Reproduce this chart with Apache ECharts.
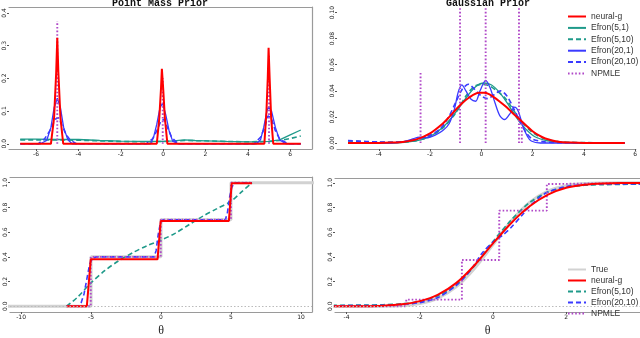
<!DOCTYPE html>
<html>
<head>
<meta charset="utf-8">
<script src="https://cdn.jsdelivr.net/npm/echarts@6/dist/echarts.min.js"></script>
<style>
  html, body { margin: 0; padding: 0; background: #fff; }
  #chartDiv { width: 640px; height: 338px; }
</style>
</head>
<body>
<div id="chartDiv"></div>
<script>
// ---------- data ----------
// point mass prior, density (top left)
var pmNeural = [[-6.75,0],[-5.3,0],[-5.15,0.08],[-5.05,0.22],[-5.0,0.324],[-4.95,0.22],[-4.85,0.08],[-4.72,0],
    [-0.3,0],[-0.18,0.08],[-0.1,0.17],[-0.06,0.229],[0.0,0.17],[0.08,0.08],[0.2,0],
    [4.78,0],[4.88,0.1],[4.94,0.2],[4.98,0.293],[5.03,0.2],[5.1,0.08],[5.2,0],[6.5,0]];
var pmEfron51 = [[-6.75,0.014],[-6,0.014],[-5,0.013],[-4,0.013],[-3,0.01],[-2,0.008],[-1,0.007],[0,0.007],
    [0.5,0.009],[1,0.012],[1.5,0.01],[2,0.009],[3,0.007],[4,0.006],[4.5,0.006],[5,0.007],[5.5,0.012],[6,0.027],[6.5,0.042]];
var pmEfron510 = [[-6.75,0.012],[-5,0.012],[-4,0.011],[-3,0.009],[-2,0.007],[-1,0.006],[0,0.007],[1,0.01],
    [2,0.009],[3,0.007],[4,0.006],[5,0.007],[5.5,0.01],[6,0.016],[6.5,0.024]];
var pmEfron201 = [[-6.75,0],[-5.8,0],[-5.5,0.01],[-5.3,0.05],[-5.15,0.11],[-5.0,0.139],[-4.85,0.11],[-4.7,0.05],[-4.5,0.012],[-4.3,0],
    [-0.6,0],[-0.45,0.02],[-0.3,0.06],[-0.15,0.11],[-0.03,0.124],[0.12,0.09],[0.28,0.04],[0.45,0.008],[0.7,0],
    [4.4,0],[4.6,0.012],[4.75,0.05],[4.9,0.1],[4.98,0.113],[5.12,0.1],[5.3,0.05],[5.5,0.012],[5.8,0],[6.5,0]];
var pmEfron2010 = [[-6.75,0],[-5.9,0],[-5.6,0.015],[-5.35,0.04],[-5.1,0.075],[-4.95,0.08],[-4.8,0.06],[-4.6,0.03],[-4.4,0.012],[-4.1,0],
    [-0.8,0],[-0.5,0.015],[-0.3,0.04],[-0.1,0.07],[0.05,0.075],[0.2,0.05],[0.4,0.02],[0.7,0],
    [4.3,0],[4.6,0.02],[4.8,0.05],[4.95,0.085],[5.1,0.08],[5.3,0.04],[5.5,0.015],[5.9,0],[6.5,0]];
var pmNpmle = [[-5,0],[-5,0.375],'-',[-0.02,0],[-0.02,0.2],'-',[5.0,0],[5.0,0.27]];

// gaussian prior, density (top right)
var gpNeural = [[-5.2,0],[-4,0],[-3.5,0.0003],[-3,0.001],[-2.5,0.003],[-2,0.0074],[-1.5,0.015],[-1.25,0.02],[-1,0.0255],
    [-0.75,0.0305],[-0.5,0.0345],[-0.1,0.0385],[0.1,0.0385],[0.3,0.0375],[0.5,0.035],[0.7,0.032],[1,0.0272],[1.25,0.0225],
    [1.5,0.018],[1.75,0.0135],[2,0.009],[2.25,0.0058],[2.5,0.0035],[3,0.001],[3.5,0.0003],[4,0],[5.6,0]];
var gpEfron51 = [[-5.2,0],[-3.5,0],[-3,0.0005],[-2.5,0.0018],[-2,0.005],[-1.5,0.012],[-1,0.0235],[-0.5,0.037],[-0.2,0.0435],
    [0.1,0.046],[0.4,0.0445],[0.7,0.039],[1,0.031],[1.5,0.016],[2,0.006],[2.5,0.002],[3,0.0008],[3.5,0.0002],[4,0],[5.6,0]];
var gpEfron510 = [[-5.2,0.0015],[-4.5,0.001],[-4,0.0005],[-3,0.0008],[-2.5,0.002],[-2,0.005],[-1.5,0.0115],[-1,0.023],
    [-0.6,0.036],[-0.3,0.043],[0,0.045],[0.3,0.044],[0.6,0.04],[0.9,0.035],[1.2,0.027],[1.5,0.018],[2,0.008],[2.5,0.003],
    [3,0.0012],[3.5,0.0005],[4,0.0003],[5.6,0]];
var gpEfron201 = [[-5.2,0],[-3.5,0],[-3,0.001],[-2.7,0.003],[-2.4,0.0045],[-2.1,0.004],[-1.8,0.006],[-1.5,0.0095],[-1.25,0.015],
    [-1.05,0.026],[-0.9,0.039],[-0.76,0.0445],[-0.6,0.04],[-0.4,0.0335],[-0.22,0.032],[-0.05,0.04],[0.17,0.048],[0.35,0.042],
    [0.53,0.031],[0.72,0.021],[0.91,0.018],[1.1,0.022],[1.3,0.0275],[1.45,0.024],[1.62,0.013],[1.8,0.005],[1.95,0.0015],[2.3,0],[5.6,0]];
var gpEfron2010 = [[-5.2,0.0018],[-4.5,0.0012],[-4,0.0008],[-3.5,0.0006],[-3,0.0012],[-2.5,0.003],[-2,0.006],[-1.6,0.011],
    [-1.3,0.019],[-1,0.031],[-0.75,0.041],[-0.5,0.045],[-0.25,0.041],[0,0.036],[0.25,0.034],[0.5,0.037],[0.75,0.04],
    [1,0.036],[1.25,0.027],[1.5,0.017],[1.75,0.008],[2,0.003],[2.5,0.0008],[3,0.0003],[5.6,0]];
var gpNpmle = [[-2.37,0],[-2.37,0.054],'-',[-0.83,0],[-0.83,0.32],'-',[0.17,0],[0.17,0.4],'-',[1.47,0],[1.47,0.21],'-',[1.58,0],[1.58,0.015]];

// point mass prior, cdf (bottom left)
var pcTrue = [[-11,0],[-5,0],[-5,0.4],[0,0.4],[0,0.7],[5,0.7],[5,1],[11,1]];
var pcNeural = [[-6.75,0],[-5.3,0],[-5.02,0.38],[-0.25,0.38],[-0.02,0.69],[4.85,0.69],[5.05,0.995],[6.5,0.995]];
var pcEfron510 = [[-6.75,0],[-6,0.07],[-5,0.19],[-4,0.29],[-3,0.37],[-2,0.435],[-1,0.49],[0,0.535],[1,0.59],[2,0.66],
    [3,0.73],[4,0.79],[5,0.85],[5.8,0.93],[6.5,1.0]];
var pcEfron2010 = [[-6.75,0],[-5.9,0],[-5.7,0.03],[-5.5,0.1],[-5.3,0.22],[-5.1,0.34],[-4.9,0.39],[-4.6,0.4],[-0.5,0.4],
    [-0.35,0.45],[-0.2,0.58],[-0.05,0.67],[0.15,0.7],[4.6,0.7],[4.75,0.76],[4.9,0.88],[5.05,0.96],[5.25,1.0],[6.5,1.0]];
var pcNpmle = [[-6.75,0],[-5.02,0],[-5.02,0.4],[-0.02,0.4],[-0.02,0.7],[5.0,0.7],[5.0,1.0],[6.5,1.0]];

// gaussian prior, cdf (bottom right)
var gcTrue = [[-4.4,0],[-3.5,0.0002],[-3,0.0013],[-2.5,0.006],[-2,0.023],[-1.5,0.067],[-1,0.159],[-0.5,0.309],[0,0.5],
    [0.5,0.691],[1,0.841],[1.5,0.933],[2,0.977],[2.5,0.994],[3,0.999],[3.5,1],[4.1,1]];
var gcNeural = [[-4.4,0],[-3.5,0.001],[-3,0.005],[-2.5,0.016],[-2,0.042],[-1.5,0.095],[-1,0.19],[-0.5,0.335],[0,0.51],
    [0.5,0.675],[1,0.81],[1.5,0.905],[2,0.96],[2.5,0.985],[3,0.995],[3.5,0.998],[4.1,0.998]];
var gcEfron510 = [[-4.4,0.008],[-3.5,0.01],[-3,0.013],[-2.5,0.02],[-2,0.038],[-1.5,0.085],[-1,0.175],[-0.5,0.33],[0,0.525],
    [0.5,0.7],[1,0.84],[1.5,0.925],[2,0.965],[2.5,0.98],[3,0.985],[4.1,0.99]];
var gcEfron2010 = [[-4.4,0.005],[-3.5,0.006],[-3,0.008],[-2.5,0.015],[-2,0.03],[-1.5,0.072],[-1,0.17],[-0.7,0.26],[-0.5,0.34],
    [-0.3,0.43],[0,0.52],[0.3,0.585],[0.5,0.64],[0.8,0.74],[1,0.81],[1.3,0.89],[1.5,0.925],[2,0.97],[2.5,0.985],[3,0.99],[4.1,0.99]];
var gcNpmle = [[-4.4,0],[-2.37,0],[-2.37,0.054],[-0.85,0.054],[-0.85,0.375],[0.17,0.375],[0.17,0.775],[1.47,0.775],
    [1.47,0.99],[1.58,0.99],[1.58,1.0],[4.1,1.0]];

// tick labels
var pmXTicks = [-6, -4, -2, 0, 2, 4, 6];
var pmYTicks = [0, 0.1, 0.2, 0.3, 0.4];
var gpXTicks = [-4, -2, 0, 2, 4, 6];
var gpYTicks = [0, 0.02, 0.04, 0.06, 0.08, 0.10];
var pcXTicks = [-10, -5, 0, 5, 10];
var gcXTicks = [-4, -2, 0, 2];
var cdfYTicks = [0, 0.2, 0.4, 0.6, 0.8, 1.0];

var titles = ['Point Mass Prior', 'Gaussian Prior'];
var legendTop = ['neural-g', 'Efron(5,1)', 'Efron(5,10)', 'Efron(20,1)', 'Efron(20,10)', 'NPMLE'];
var legendBottom = ['True', 'neural-g', 'Efron(5,10)', 'Efron(20,10)', 'NPMLE'];

// ---------- styles ----------
var STYLE = {
    'True':         {color: '#d2d2d2', width: 3,   type: 'solid'},
    'neural-g':     {color: '#ff0000', width: 2,   type: 'solid'},
    'Efron(5,1)':   {color: '#1f9a8a', width: 1.3, type: 'solid'},
    'Efron(5,10)':  {color: '#1f9a8a', width: 1.6, type: [5, 3]},
    'Efron(20,1)':  {color: '#3a3aff', width: 1.3, type: 'solid'},
    'Efron(20,10)': {color: '#3a3aff', width: 1.6, type: [5, 3]},
    'NPMLE':        {color: '#b048c8', width: 1.9, type: [1.6, 2]}
};
var LABEL_FONT = {fontSize: 6, color: '#222', fontFamily: 'DejaVu Sans'};
var BOX_COLOR = '#9a9a9a';

var chart = echarts.init(document.getElementById('chartDiv'));

// one entry per panel: grid box in px, axis ranges, tick values
var panels = [
    {grid: [9, 7, 303, 142],   x: [-7.28, 7.03],  y: [-0.016, 0.418],  xt: pmXTicks, yt: pmYTicks,  yd: 1, top: true,  right: true,  theta: false},
    {grid: [337, 8, 302, 141], x: [-5.63, 6.03],  y: [-0.0046, 0.1035], xt: gpXTicks, yt: gpYTicks, yd: 2, top: false, right: false, theta: false},
    {grid: [10, 177, 302, 142], x: [-10.79, 10.79], y: [-0.046, 1.046], xt: pcXTicks, yt: cdfYTicks, yd: 1, top: true, right: true, theta: true},
    {grid: [335, 178, 305, 141], x: [-4.317, 4.016], y: [-0.046, 1.039], xt: gcXTicks, yt: cdfYTicks, yd: 1, top: true, right: false, theta: true}
];

function makeSeries(name, data, panel, smooth) {
    var st = STYLE[name];
    return {
        name: name,
        type: 'line',
        xAxisIndex: panel,
        yAxisIndex: panel,
        data: data,
        symbol: 'none',
        smooth: smooth ? 0.3 : false,
        clip: true,
        silent: true,
        animation: false,
        itemStyle: {color: st.color},
        lineStyle: {color: st.color, width: st.width, type: st.type}
    };
}

function getOption() {
    var grids = [], xAxes = [], yAxes = [];
    var i, p;
    for (i = 0; i < panels.length; i++) {
        p = panels[i];
        grids.push({left: p.grid[0], top: p.grid[1], width: p.grid[2], height: p.grid[3], containLabel: false});
        (function (p, i) {
            xAxes.push({
                type: 'value', gridIndex: i, position: 'bottom', min: p.x[0], max: p.x[1],
                splitLine: {show: false},
                axisLine: {show: true, onZero: false, lineStyle: {color: BOX_COLOR, width: 1.2}},
                axisTick: {show: true, length: 2, customValues: p.xt, lineStyle: {color: '#555'}},
                axisLabel: {show: true, margin: 2, customValues: p.xt, fontSize: LABEL_FONT.fontSize,
                    color: LABEL_FONT.color, fontFamily: LABEL_FONT.fontFamily},
                name: p.theta ? '\u03b8' : '',
                nameLocation: 'middle',
                nameGap: 13,
                nameTextStyle: {fontFamily: 'Liberation Serif', fontSize: 12, color: '#222'}
            });
            yAxes.push({
                type: 'value', gridIndex: i, position: 'left', min: p.y[0], max: p.y[1],
                splitLine: {show: false},
                axisLine: {show: false, onZero: false},
                axisTick: {show: true, length: 2, customValues: p.yt, lineStyle: {color: '#555'}},
                axisLabel: {show: true, margin: 2, rotate: 90, customValues: p.yt, fontSize: LABEL_FONT.fontSize,
                    color: LABEL_FONT.color, fontFamily: LABEL_FONT.fontFamily,
                    formatter: function (v) { return v.toFixed(p.yd); }}
            });
        })(p, i);
    }
    // top / right box lines
    for (i = 0; i < panels.length; i++) {
        p = panels[i];
        xAxes.push({type: 'value', gridIndex: i, position: 'top', min: p.x[0], max: p.x[1],
            splitLine: {show: false}, axisTick: {show: false}, axisLabel: {show: false},
            axisLine: {show: p.top, onZero: false, lineStyle: {color: BOX_COLOR, width: 1.2}}});
        yAxes.push({type: 'value', gridIndex: i, position: 'right', min: p.y[0], max: p.y[1],
            splitLine: {show: false}, axisTick: {show: false}, axisLabel: {show: false},
            axisLine: {show: p.right, onZero: false, lineStyle: {color: BOX_COLOR, width: 1.2}}});
    }

    var series = [
        // top left
        makeSeries('Efron(5,1)', pmEfron51, 0, false),
        makeSeries('Efron(5,10)', pmEfron510, 0, false),
        makeSeries('Efron(20,1)', pmEfron201, 0, false),
        makeSeries('Efron(20,10)', pmEfron2010, 0, false),
        makeSeries('NPMLE', pmNpmle, 0, false),
        makeSeries('neural-g', pmNeural, 0, false),
        // top right
        makeSeries('Efron(5,1)', gpEfron51, 1, true),
        makeSeries('Efron(5,10)', gpEfron510, 1, true),
        makeSeries('Efron(20,1)', gpEfron201, 1, true),
        makeSeries('Efron(20,10)', gpEfron2010, 1, true),
        makeSeries('NPMLE', gpNpmle, 1, false),
        makeSeries('neural-g', gpNeural, 1, true),
        // bottom left
        makeSeries('True', pcTrue, 2, false),
        makeSeries('Efron(5,10)', pcEfron510, 2, true),
        makeSeries('Efron(20,10)', pcEfron2010, 2, false),
        makeSeries('NPMLE', pcNpmle, 2, false),
        makeSeries('neural-g', pcNeural, 2, false),
        // bottom right
        makeSeries('True', gcTrue, 3, true),
        makeSeries('Efron(5,10)', gcEfron510, 3, true),
        makeSeries('Efron(20,10)', gcEfron2010, 3, true),
        makeSeries('NPMLE', gcNpmle, 3, false),
        makeSeries('neural-g', gcNeural, 3, true)
    ];
    // dotted zero line in the cdf panels
    series[12].markLine = series[17].markLine = {
        silent: true, symbol: 'none', label: {show: false}, animation: false,
        lineStyle: {color: '#bbbbbb', width: 1, type: [1.5, 2]},
        data: [{yAxis: 0}]
    };
    series[12].z = series[17].z = 1;

    var legendCommon = {
        orient: 'vertical', left: 567, itemWidth: 18, itemHeight: 8, padding: 0,
        selectedMode: false,
        itemStyle: {color: 'transparent', borderWidth: 0, opacity: 0},
        textStyle: {fontSize: 8.5, fontFamily: 'Liberation Sans', color: '#333'}
    };

    return {
        backgroundColor: '#fff',
        animation: false,
        title: [
            {text: titles[0], left: 160, top: -2, textAlign: 'center', padding: 0,
                textStyle: {fontFamily: 'Liberation Mono', fontWeight: 'bold', fontSize: 10, color: '#111'}},
            {text: titles[1], left: 488, top: -2, textAlign: 'center', padding: 0,
                textStyle: {fontFamily: 'Liberation Mono', fontWeight: 'bold', fontSize: 10, color: '#111'}}
        ],
        legend: [
            Object.assign({}, legendCommon, {data: legendTop, top: 12, itemGap: 2.4}),
            Object.assign({}, legendCommon, {data: legendBottom, top: 265, itemGap: 2})
        ],
        grid: grids,
        xAxis: xAxes,
        yAxis: yAxes,
        series: series
    };
}

chart.setOption(getOption());
</script>
</body>
</html>
